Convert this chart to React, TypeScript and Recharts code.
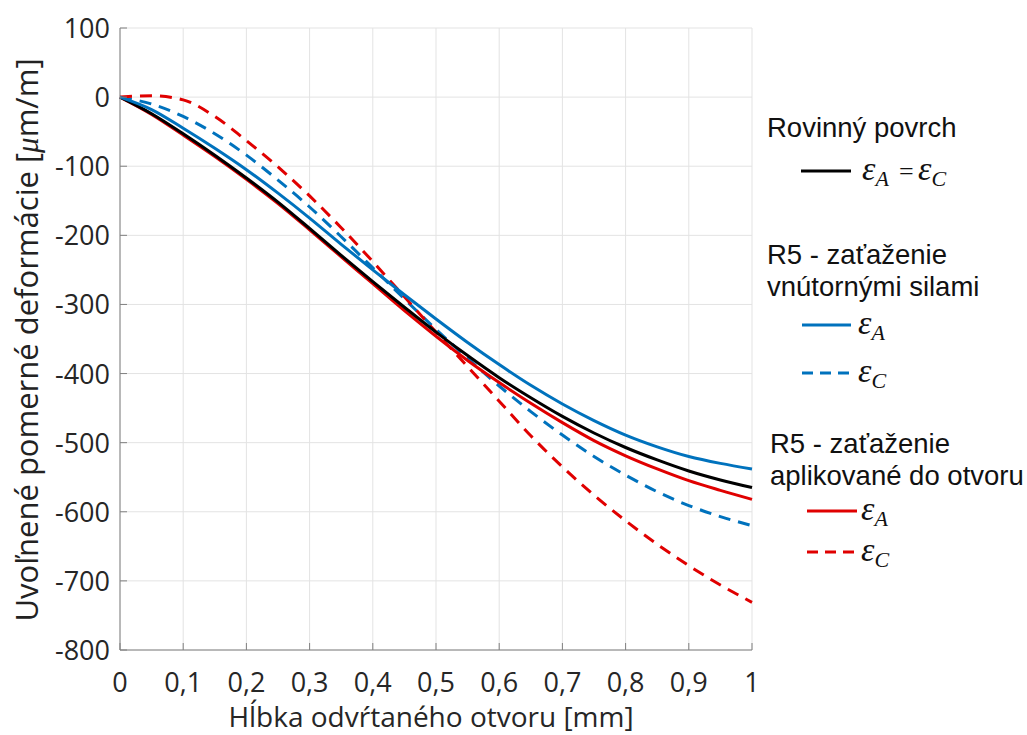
import { CartesianGrid, Line, LineChart, XAxis, YAxis } from "recharts";

// hĺbka otvoru [mm]
const depth = [0, 0.05, 0.1, 0.15, 0.2, 0.25, 0.3, 0.35, 0.4, 0.45, 0.5, 0.55, 0.6, 0.65, 0.7, 0.75, 0.8, 0.85, 0.9, 0.95, 1];

// Rovinný povrch, eps_A = eps_C
const planeA = [0, -24, -53, -84, -117, -152, -190, -229, -267, -304, -340, -374, -406, -435, -462, -486, -507, -525, -541, -554, -565];
// R5 - zaťaženie vnútornými silami
const internalA = [0, -18, -45, -74, -105, -139, -175, -213, -250, -286, -321, -355, -387, -417, -444, -468, -489, -506, -520, -530, -538];
const internalC = [0, -10, -28, -53, -84, -120, -159, -202, -247, -292, -336, -378, -418, -455, -489, -520, -547, -571, -591, -607, -620];
// R5 - zaťaženie aplikované do otvoru
const appliedA = [0, -25, -55, -86, -119, -154, -192, -231, -270, -309, -346, -381, -413, -443, -471, -497, -519, -538, -555, -569, -582];
const appliedC = [0, 2, -4, -28, -63, -101, -143, -189, -238, -289, -340, -390, -440, -490, -535, -576, -613, -647, -678, -706, -731];

const xTicks = [0, 0.1, 0.2, 0.3, 0.4, 0.5, 0.6, 0.7, 0.8, 0.9, 1];
const yTicks = [-800, -700, -600, -500, -400, -300, -200, -100, 0, 100];

const data = depth.map((d, i) => ({
  depth: d,
  planeA: planeA[i],
  internalA: internalA[i],
  internalC: internalC[i],
  appliedA: appliedA[i],
  appliedC: appliedC[i],
}));

const BLUE = "#0072BD";
const RED = "#E00000";
const AXIS = "#808080";
const TEXT = "#262626";
const tickFont = "'Open Sans', sans-serif";
const textFont = "'Liberation Sans', Arial, sans-serif";
const mathFont = "'Liberation Serif', 'DejaVu Serif', serif";

function XTick(props: any) {
  const { x, y, payload } = props;
  const label = String(payload.value).replace(".", ",");
  return (
    <g>
      <line x1={x} x2={x} y1={y} y2={y - 7} stroke={AXIS} strokeWidth={1} />
      <text x={x} y={y + 42} textAnchor="middle" fontFamily={tickFont} fontSize={27} fill={TEXT}>
        {label}
      </text>
    </g>
  );
}

function YTick(props: any) {
  const { x, y, payload } = props;
  return (
    <g>
      <line x1={x} x2={x + 7} y1={y} y2={y} stroke={AXIS} strokeWidth={1} />
      <text x={x - 10} y={y + 10} textAnchor="end" fontFamily={tickFont} fontSize={27} fill={TEXT}>
        {payload.value}
      </text>
    </g>
  );
}

function Eps({ x, y, sub }: { x: number; y: number; sub: string }) {
  return (
    <text x={x} y={y} fontFamily={mathFont} fontStyle="italic" fontSize={34} fill="#111">
      ε
      <tspan fontSize={22} dy={6}>
        {sub}
      </tspan>
    </text>
  );
}

function LegendBox() {
  const t = { fontFamily: textFont, fontSize: 27.5, fill: "#111" };
  return (
    <svg
      width={1027}
      height={735}
      style={{ position: "absolute", left: 0, top: 0, pointerEvents: "none" }}
    >
      <text x={767} y={137} {...t}>Rovinný povrch</text>
      <line x1={801} x2={851} y1={171} y2={171} stroke="#000" strokeWidth={3} />
      <Eps x={862} y={180} sub="A" />
      <text x={899} y={180} fontFamily={mathFont} fontSize={26} fill="#111">=</text>
      <Eps x={918} y={180} sub="C" />

      <text x={767} y={264} {...t}>R5 - zaťaženie</text>
      <text x={767} y={296} {...t}>vnútornými silami</text>
      <line x1={802} x2={851} y1={325} y2={325} stroke={BLUE} strokeWidth={3} />
      <Eps x={858} y={334} sub="A" />
      <line x1={802} x2={851} y1={373} y2={373} stroke={BLUE} strokeWidth={3} strokeDasharray="11 7" />
      <Eps x={858} y={382} sub="C" />

      <text x={770} y={453} {...t}>R5 - zaťaženie</text>
      <text x={770} y={485} {...t}>aplikované do otvoru</text>
      <line x1={807} x2={857} y1={511} y2={511} stroke={RED} strokeWidth={3} />
      <Eps x={861} y={520} sub="A" />
      <line x1={807} x2={857} y1={552} y2={552} stroke={RED} strokeWidth={3} strokeDasharray="11 7" />
      <Eps x={861} y={561} sub="C" />
    </svg>
  );
}

export default function App() {
  return (
    <div style={{ position: "absolute", left: 0, top: 0, width: 1027, height: 735, background: "#fff" }}>
      <LineChart width={1027} height={735} data={data} margin={{ top: 28, right: 275, left: 0, bottom: 0 }}>
        <CartesianGrid stroke="#e3e3e3" strokeWidth={1} />
        <XAxis
          dataKey="depth"
          type="number"
          domain={[0, 1]}
          ticks={xTicks}
          height={85}
          stroke={AXIS}
          tickLine={false}
          tickSize={0}
          tickMargin={0}
          tick={<XTick />}
          label={{
            content: () => (
              <text x={431} y={727} textAnchor="middle" fontFamily={tickFont} fontSize={28} fill={TEXT}>
                Hĺbka odvŕtaného otvoru [mm]
              </text>
            ),
          }}
        />
        <YAxis
          type="number"
          domain={[-800, 100]}
          ticks={yTicks}
          width={120}
          stroke={AXIS}
          tickLine={false}
          tickSize={0}
          tickMargin={0}
          tick={<YTick />}
          label={{
            content: () => (
              <text
                x={0}
                y={0}
                transform="translate(38 340) rotate(-90)"
                textAnchor="middle"
                fontFamily={tickFont}
                fontSize={31}
                fill="#222"
              >
                Uvoľnené pomerné deformácie [
                <tspan fontFamily={mathFont} fontStyle="italic">μ</tspan>
                m/m]
              </text>
            ),
          }}
        />
        <Line type="monotone" dataKey="internalC" stroke={BLUE} strokeWidth={3} strokeDasharray="12 8" dot={false} isAnimationActive={false} />
        <Line type="monotone" dataKey="appliedC" stroke={RED} strokeWidth={3} strokeDasharray="12 8" dot={false} isAnimationActive={false} />
        <Line type="monotone" dataKey="appliedA" stroke={RED} strokeWidth={3} dot={false} isAnimationActive={false} />
        <Line type="monotone" dataKey="planeA" stroke="#000" strokeWidth={3} dot={false} isAnimationActive={false} />
        <Line type="monotone" dataKey="internalA" stroke={BLUE} strokeWidth={3} dot={false} isAnimationActive={false} />
      </LineChart>
      <LegendBox />
    </div>
  );
}
